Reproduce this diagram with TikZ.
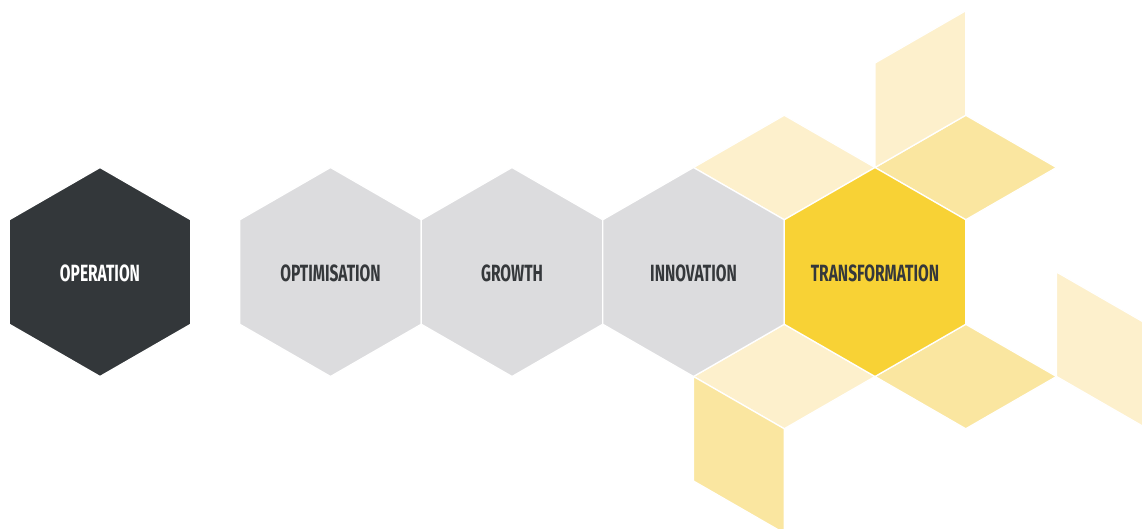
\documentclass[tikz,border=0pt]{standalone}
\usepackage{fontspec}
\newfontfamily\hexfont[FakeStretch=0.66]{Fira Sans}
\definecolor{darkhex}{HTML}{33373A}
\definecolor{grayhex}{HTML}{DCDCDE}
\definecolor{yelhex}{HTML}{F8D235}
\definecolor{lightrh}{HTML}{FDF0CC}
\definecolor{medrh}{HTML}{FAE6A0}
\definecolor{txtdark}{HTML}{35383B}
\begin{document}
\begin{tikzpicture}[x=1pt,y=-1pt,
  sep/.style={draw=white,line width=1.3pt,line join=miter},
  hexlabel/.style={font=\hexfont\bfseries\fontsize{23.5}{23.5}\selectfont,text=txtdark,inner sep=0pt},
  hexa/.pic={\path[pic actions] (0,-104.5) -- (90.75,-52.25) -- (90.75,52.25) -- (0,104.5) -- (-90.75,52.25) -- (-90.75,-52.25) -- cycle;}
]
\useasboundingbox (0,0) rectangle (1142,528);
\begin{scope}
\clip (0,0) rectangle (1142,528);
% rhombi
\path[sep,fill=lightrh] (693.5,167.5) -- (784.25,115.25) -- (875,167.5) -- (784.25,219.75) -- cycle;
\path[sep,fill=medrh] (875,167.5) -- (965.75,115.25) -- (1056.5,167.5) -- (965.75,219.75) -- cycle;
\path[sep,fill=lightrh] (875,63) -- (965.75,10.75) -- (965.75,115.25) -- (875,167.5) -- cycle;
\path[sep,fill=lightrh] (693.5,376.5) -- (784.25,324.25) -- (875,376.5) -- (784.25,428.75) -- cycle;
\path[sep,fill=medrh] (693.5,376.5) -- (784.25,428.75) -- (784.25,533.25) -- (693.5,481) -- cycle;
\path[sep,fill=medrh] (875,376.5) -- (965.75,324.25) -- (1056.5,376.5) -- (965.75,428.75) -- cycle;
\path[sep,fill=lightrh] (1056.5,272) -- (1147.25,324.25) -- (1147.25,428.75) -- (1056.5,376.5) -- cycle;
% hexagons
\pic[fill=darkhex,sep] at (100,272) {hexa};
\pic[fill=grayhex,sep] at (330.5,272) {hexa};
\pic[fill=grayhex,sep] at (512,272) {hexa};
\pic[fill=grayhex,sep] at (693.5,272) {hexa};
\pic[fill=yelhex,sep] at (875,272) {hexa};
\end{scope}
\node[hexlabel,text=white] (op) at (100,273) {OPERATION};
\node[hexlabel] (opt) at (330.5,273) {OPTIMISATION};
\node[hexlabel] (gro) at (512,273) {GROWTH};
\node[hexlabel] (inn) at (693.5,273) {INNOVATION};
\node[hexlabel] (tra) at (875,273) {TRANSFORMATION};
\end{tikzpicture}
\end{document}
